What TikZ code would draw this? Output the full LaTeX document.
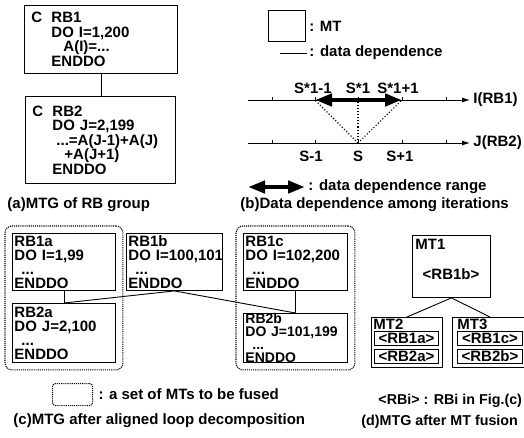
\documentclass[tikz,border=0pt]{standalone}
\usepackage{fontspec}
\setmainfont{Liberation Sans}
\usepackage{tikz}
\usetikzlibrary{positioning,arrows.meta,fit}

\begin{document}
\begin{tikzpicture}[x=1pt, y=-1pt, line width=0.9pt,
  mtbox/.style={rectangle, draw, anchor=north west, align=left, inner xsep=2pt, inner ysep=0pt, font=\fontsize{15}{14}\selectfont\bfseries},
  fusegroup/.style={draw, densely dotted, line width=1.1pt, rounded corners=7pt},
  txt/.style={inner sep=0pt, font=\fontsize{15}{18}\selectfont\bfseries},
  rangearrow/.style={line width=4.5pt, {Triangle[length=17pt,width=12pt]}-{Triangle[length=17pt,width=12pt]}},
  axis/.style={-{Latex[length=8pt,width=5pt]}}]
  \useasboundingbox (0,0) rectangle (524,437);
  \clip (0,0) rectangle (524,437);

  % (a) MTG of RB group
  \node[mtbox, inner xsep=7pt, text width=139pt, minimum height=68pt, font=\fontsize{15}{14.5}\selectfont\bfseries] (rb1) at (24,5)
    {\makebox[20pt][l]{C}RB1\\ \hspace*{20pt}DO~I=1,200\\ \hspace*{32pt}A(I)=...\\ \hspace*{20pt}ENDDO};
  \node[mtbox, inner xsep=7pt, text width=136pt, minimum height=87pt, font=\fontsize{15}{14.5}\selectfont\bfseries] (rb2) at (25,96)
    {\makebox[20pt][l]{C}RB2\\ \hspace*{20pt}DO~J=2,199\\ \hspace*{24pt}...=A(J-1)+A(J)\\ \hspace*{32pt}+A(J+1)\\ \hspace*{20pt}ENDDO};
  \draw (rb1.south) -- (rb1.south |- rb2.north);
  \node[txt, anchor=west] (capa) at (7,205) {(a)MTG of RB group};

  % (b) legend
  \node[draw, anchor=north west, minimum width=37pt, minimum height=31pt, inner sep=0pt] (keymt) at (268,10) {};
  \node[txt, right=3pt of keymt] (keymttxt) {: MT};
  \coordinate (keydd1) at (280,53);
  \coordinate (keydd2) at (307,53);
  \draw (keydd1) -- (keydd2);
  \node[txt, right=2pt of keydd2] (keyddtxt) {: data dependence};

  % (b) iteration axes
  \coordinate (ia) at (248,100);
  \coordinate (ib) at (470,100);
  \coordinate (ja) at (248,143);
  \coordinate (jb) at (470,143);
  \draw[axis] (ia) -- (ib);
  \draw[axis] (ja) -- (jb);
  \node[txt, right=3pt of ib] (ilab) {I(RB1)};
  \node[txt, right=3pt of jb] (jlab) {J(RB2)};
  \foreach \k/\xx in {1/272,2/315,3/358,4/402,5/446} {
    \coordinate (i\k) at (\xx,100);
    \coordinate (j\k) at (\xx,143);
    \draw (i\k) -- ++(0,-3);
    \draw (j\k) -- ++(0,-3);
  }
  \node[txt, above=6pt of i2, xshift=-2pt] (si2) {S*1-1};
  \node[txt, above=6pt of i3] (si3) {S*1};
  \node[txt, above=6pt of i4, xshift=-4pt] (si4) {S*1+1};
  \node[txt, below=8pt of j2, xshift=-4pt] (sj2) {S-1};
  \node[txt, below=8pt of j3] (sj3) {S};
  \node[txt, below=8pt of j4, xshift=-2pt] (sj4) {S+1};
  \draw[rangearrow] (i2) -- (i4);
  \draw[dotted, line width=1.1pt] (j3) -- (i2);
  \draw[dotted, line width=1.1pt] (j3) -- (i3);
  \draw[dotted, line width=1.1pt] (j3) -- (i4);

  \coordinate (keyr1) at (248,187);
  \coordinate (keyr2) at (305,187);
  \draw[rangearrow] (keyr1) -- (keyr2);
  \node[txt, right=3pt of keyr2] (keyrtxt) {: data dependence range};
  \node[txt, anchor=west] (capb) at (240,205) {(b)Data dependence among iterations};

  % (c) MTG after aligned loop decomposition
  \node[mtbox, text width=99pt, minimum height=57pt] (rb1a) at (12,233)
    {RB1a\\DO~I=1,99\\\hspace*{7pt}...\\ENDDO};
  \node[mtbox, text width=92pt, minimum height=57pt] (rb1b) at (126,233)
    {RB1b\\DO~I=100,101\\\hspace*{7pt}...\\ENDDO};
  \node[mtbox, text width=100pt, minimum height=57pt] (rb1c) at (243,233)
    {RB1c\\DO~I=102,200\\\hspace*{7pt}...\\ENDDO};
  \node[mtbox, text width=99pt, minimum height=59pt] (rb2a) at (12,303)
    {RB2a\\DO~J=2,100\\\hspace*{7pt}...\\ENDDO};
  \node[mtbox, text width=100pt, minimum height=49pt, font=\fontsize{14}{12.8}\selectfont\bfseries] (rb2b) at (243,313)
    {RB2b\\DO~J=101,199\\\hspace*{7pt}...\\ENDDO};
  \node[fusegroup, fit=(rb1a)(rb2a), inner sep=7pt] (grpa) {};
  \node[fusegroup, fit=(rb1c)(rb2b), inner sep=7pt] (grpc) {};
  \draw (rb1a.south) -- (rb2a.north);
  \draw (rb1b.south) -- (rb2a.north);
  \draw (rb1b.south) -- (rb2b.north);
  \draw (rb1c.south) -- (rb2b.north);

  \node[fusegroup, rounded corners=3pt, anchor=north west, minimum width=40pt, minimum height=22pt, inner sep=0pt] (keyfuse) at (52,383) {};
  \node[txt, right=5pt of keyfuse] (keyfusetxt) {: a set of MTs to be fused};
  \node[txt, anchor=west] (capc) at (13,421) {(c)MTG after aligned loop decomposition};

  % (d) MTG after MT fusion
  \node[mtbox, minimum width=78pt, minimum height=62pt] (mt1) at (412,235) {};
  \node[txt, below right=4pt and 3pt of mt1.north west] (mt1name) {MT1};
  \node[txt] (mt1body) at (451,274) {<RB1b>};
  \node[mtbox, minimum width=71pt, minimum height=50pt] (mt2) at (371,317) {};
  \node[mtbox, minimum width=75pt, minimum height=50pt] (mt3) at (452,317) {};
  \node[txt, below right=1.5pt and 2pt of mt2.north west] (mt2name) {MT2};
  \node[txt, below right=1.5pt and 5pt of mt3.north west] (mt3name) {MT3};
  \node[mtbox, minimum width=64pt, minimum height=14pt, inner sep=0pt, align=center] (mt2a) at (374,331) {<RB1a>};
  \node[mtbox, minimum width=64pt, minimum height=14pt, inner sep=0pt, align=center] (mt2b) at (374,349) {<RB2a>};
  \node[mtbox, minimum width=65pt, minimum height=14pt, inner sep=0pt, align=center] (mt3a) at (457,331) {<RB1c>};
  \node[mtbox, minimum width=65pt, minimum height=14pt, inner sep=0pt, align=center] (mt3b) at (457,349) {<RB2b>};
  \draw (mt1.south) -- (mt2.north);
  \draw (mt1.south) -- (mt3.north);
  \node[txt, anchor=west, font=\fontsize{14.3}{18}\selectfont\bfseries] (keyrbi) at (378,401) {<RBi> : RBi in Fig.(c)};
  \node[txt, anchor=west, font=\fontsize{14.3}{18}\selectfont\bfseries] (capd) at (361,422) {(d)MTG after MT fusion};
\end{tikzpicture}
\end{document}
